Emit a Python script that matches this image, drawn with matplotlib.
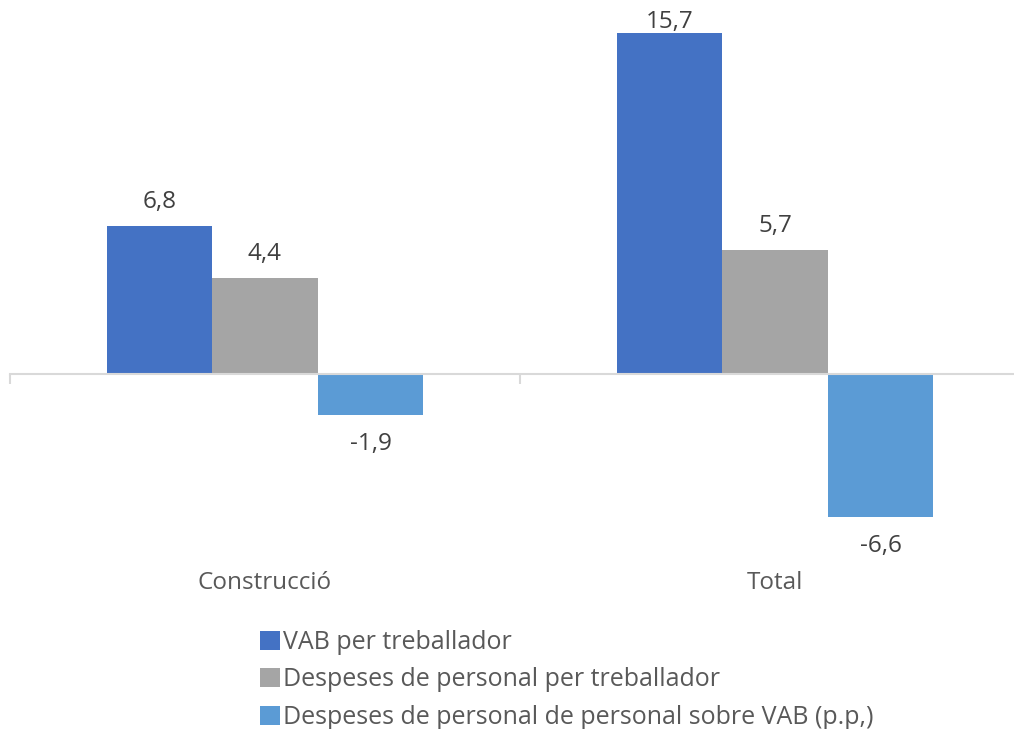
import matplotlib.pyplot as plt
import matplotlib.transforms as mtransforms
import numpy as np

plt.rcParams['font.family'] = ['Open Sans', 'DejaVu Sans']

categories = ['Construcció', 'Total']
series_names = [
    'VAB per treballador',
    'Despeses de personal per treballador',
    'Despeses de personal de personal sobre VAB (p.p,)',
]
values = [
    [6.8, 15.7],
    [4.4, 5.7],
    [-1.9, -6.6],
]
labels = [
    ['6,8', '15,7'],
    ['4,4', '5,7'],
    ['-1,9', '-6,6'],
]
colors = ['#4472C4', '#A5A5A5', '#5B9BD5']

W, H = 1014, 729
FS = 17.5
YMIN, YMAX = -8.56, 16.76
fig = plt.figure(figsize=(W / 100, H / 100), dpi=100)
# axis runs a little past the right edge, as in the original
ax = fig.add_axes([10 / W, 1 - 560 / H, 1020 / W, 550 / H])

x = np.arange(len(categories))
width = 0.207
offsets = [-width, 0, width]

for vals, labs, col, name, off in zip(values, labels, colors, series_names, offsets):
    bars = ax.bar(x + off, vals, width, color=col, label=name, linewidth=0)
    for b, v, lab in zip(bars, vals, labs):
        xc = b.get_x() + b.get_width() / 2
        if v >= 0:
            if v + 1.6 > YMAX:
                # no room above: pin label to top of plot area, like Excel
                ax.text(xc, 1.0, lab, transform=ax.get_xaxis_transform(),
                        ha='center', va='top', fontsize=FS, color='#404040')
            else:
                ax.annotate(lab, (xc, v), xytext=(0, 9),
                            textcoords='offset points', ha='center', va='bottom',
                            fontsize=FS, color='#404040')
        else:
            ax.annotate(lab, (xc, v), xytext=(0, -12),
                        textcoords='offset points', ha='center', va='top',
                        fontsize=FS, color='#404040')

ax.set_xlim(-0.5, 1.5)
ax.set_ylim(YMIN, YMAX)

for s in ['top', 'right', 'left']:
    ax.spines[s].set_visible(False)
ax.spines['bottom'].set_position(('data', 0))
ax.spines['bottom'].set_color('#D9D9D9')
ax.spines['bottom'].set_linewidth(1.5)
ax.set_yticks([])
ax.set_xticks([-0.5, 0.5, 1.5])
ax.set_xticklabels([])
ax.tick_params(axis='x', length=7, width=1.5, color='#D9D9D9', direction='out')

trans = mtransforms.blended_transform_factory(ax.transData, fig.transFigure)
for xi, cat in zip(x, categories):
    ax.text(xi, 1 - 583 / H, cat, transform=trans, ha='center', va='center',
            fontsize=FS, color='#595959')

leg = fig.legend(loc='upper left', bbox_to_anchor=(260 / W, 1 - 630 / H),
                 frameon=False, fontsize=18, labelcolor='#595959',
                 handlelength=0.8, handleheight=0.8, handletextpad=0.12,
                 labelspacing=0.5, borderpad=0, borderaxespad=0)

fig.savefig('out.png', dpi=100)
